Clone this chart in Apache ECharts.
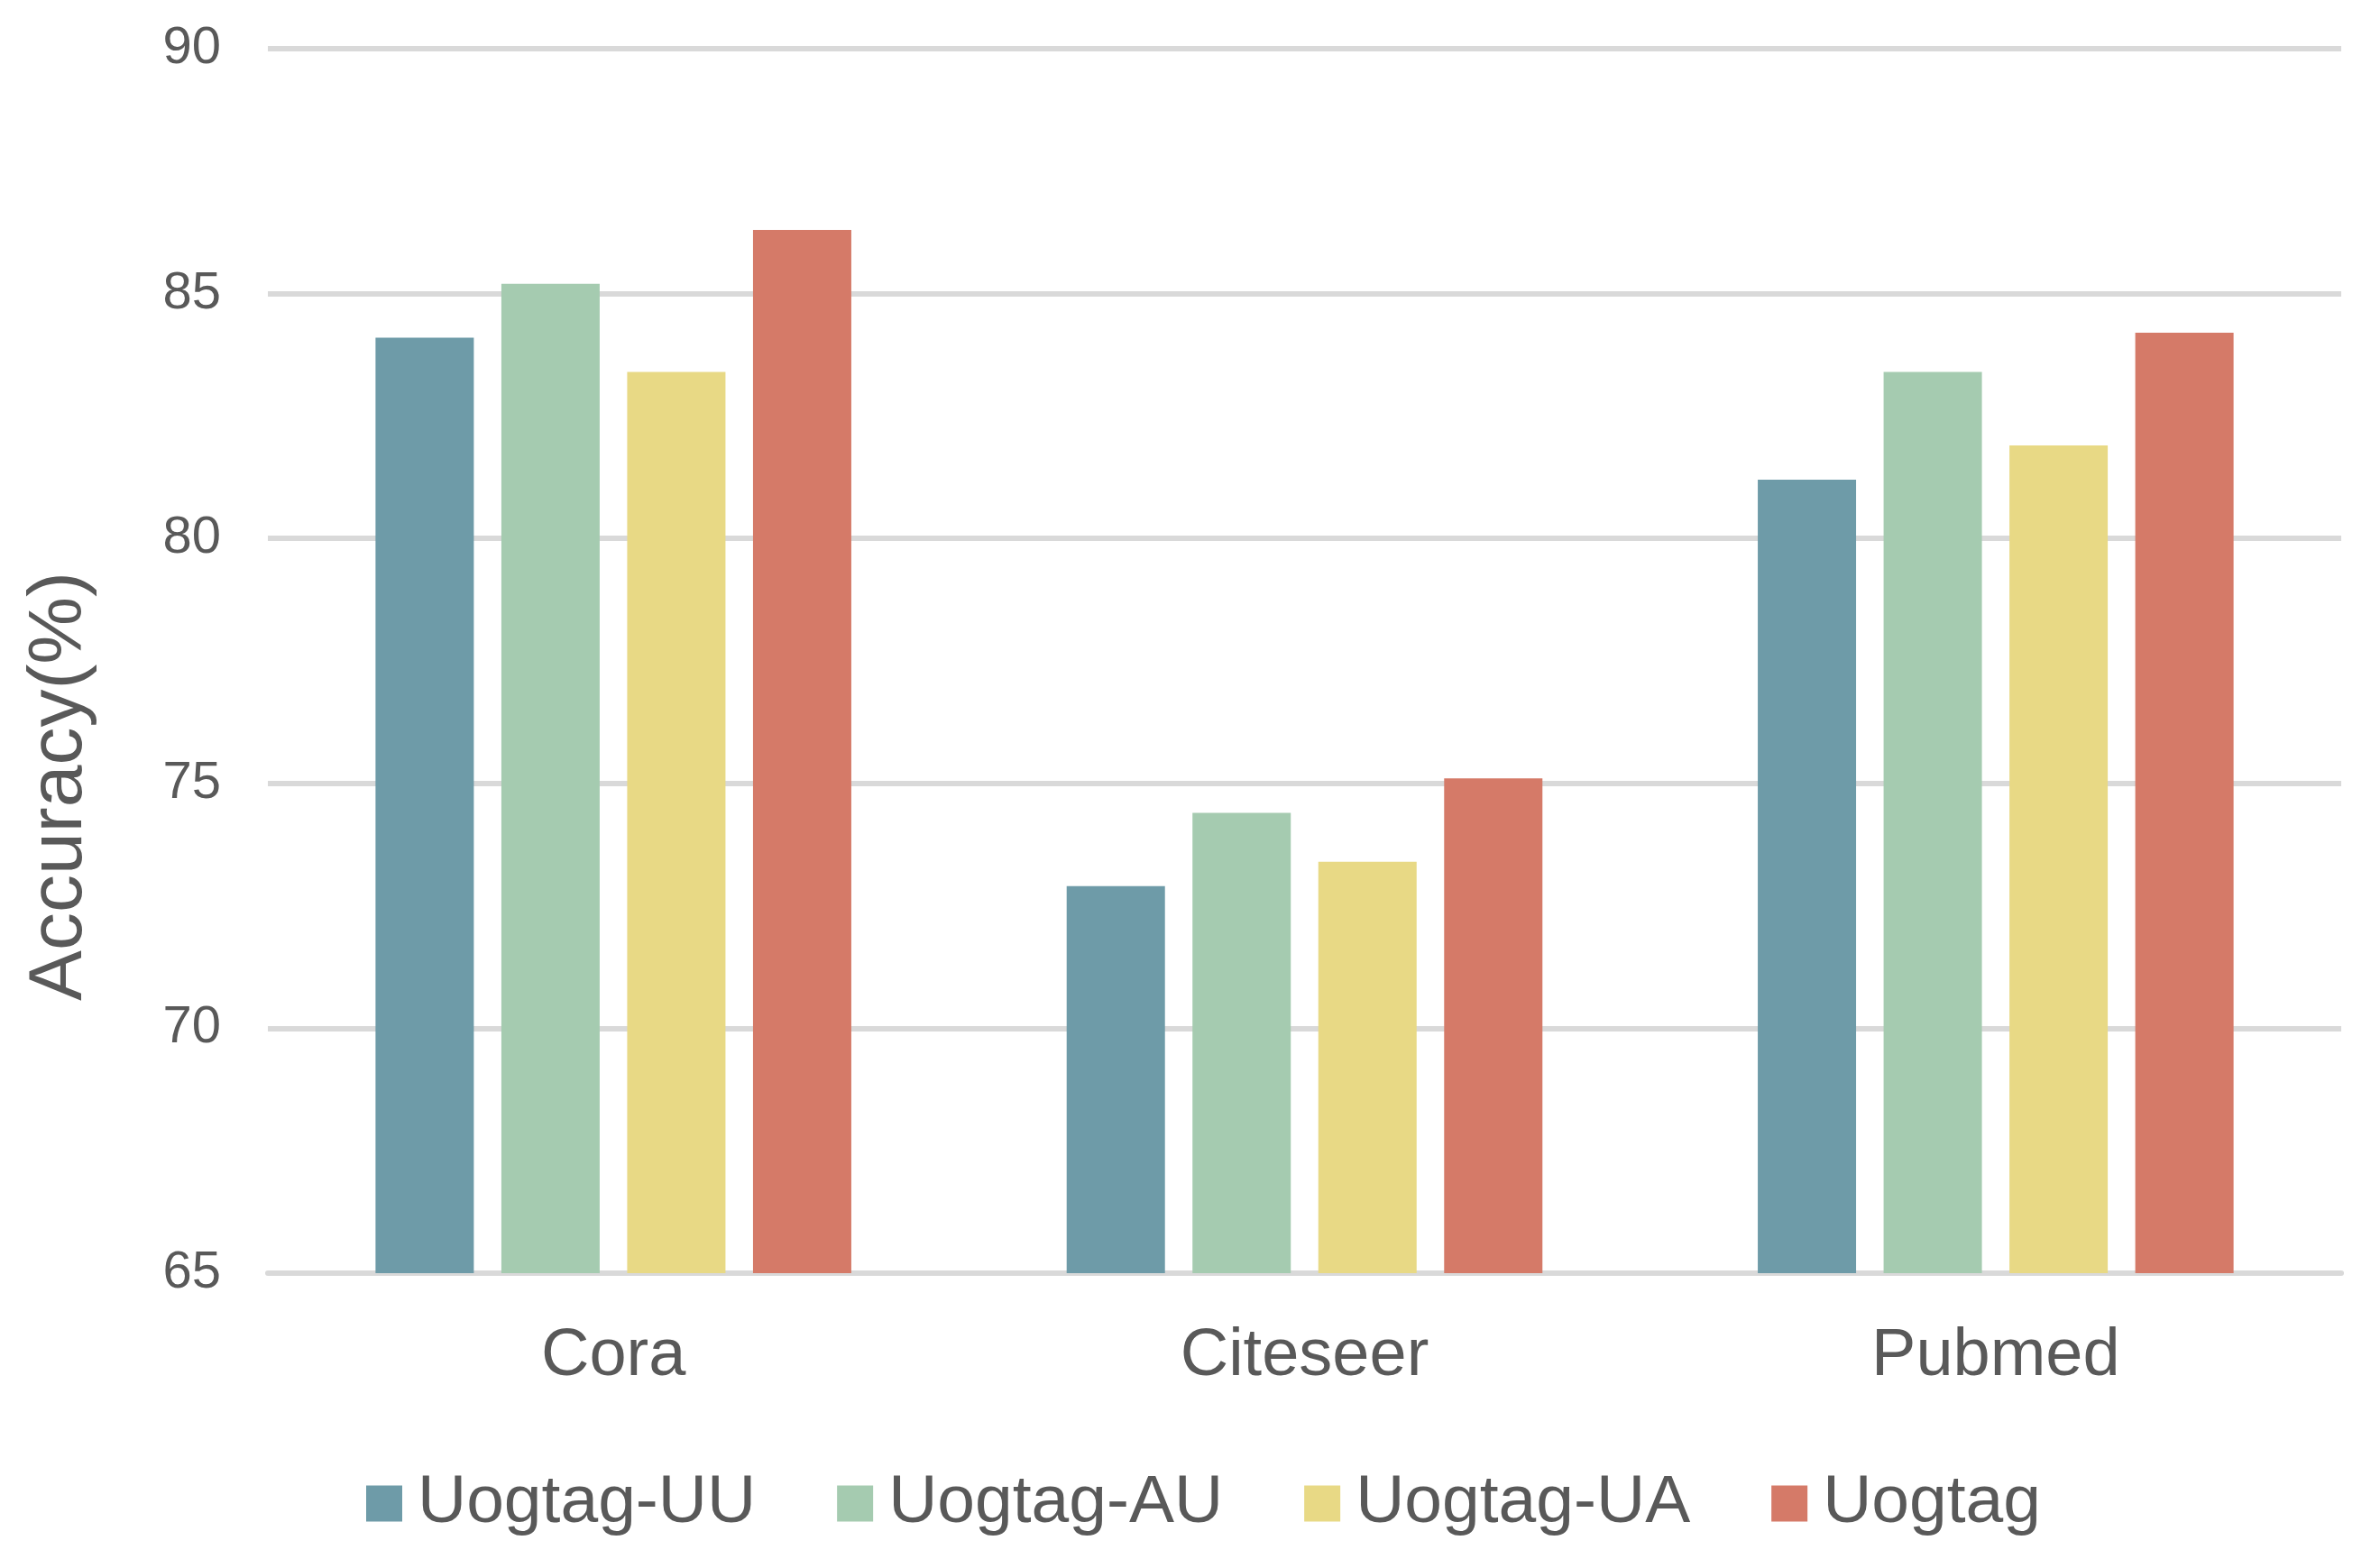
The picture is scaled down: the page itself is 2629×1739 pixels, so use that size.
<!DOCTYPE html>
<html>
<head>
<meta charset="utf-8">
<script src="https://cdn.jsdelivr.net/npm/echarts@6/dist/echarts.min.js"></script>
<style>
html,body{margin:0;padding:0;background:#fff;}
#chart{width:2629px;height:1739px;}
</style>
</head>
<body>
<div id="chart"></div>
<script>
const categories = ['Cora', 'Citeseer', 'Pubmed'];
const seriesNames = ['Uogtag-UU', 'Uogtag-AU', 'Uogtag-UA', 'Uogtag'];
const uogtagUU = [84.1, 72.9, 81.2];
const uogtagAU = [85.2, 74.4, 83.4];
const uogtagUA = [83.4, 73.4, 81.9];
const uogtag   = [86.3, 75.1, 84.2];
const colors = ['#6E9BA8', '#A5CBB0', '#E8D985', '#D57A68'];
const yMin = 65, yMax = 90, yStep = 5;
const yTitle = 'Accuracy(%)';

const allValues = [uogtagUU, uogtagAU, uogtagUA, uogtag];
const font = '"Liberation Sans", Arial, sans-serif';
const chart = echarts.init(document.getElementById('chart'), null, {renderer: 'canvas'});
chart.setOption({
  backgroundColor: '#ffffff',
  animation: false,
  color: colors,
  grid: {left: 297, right: 33, top: 54, bottom: 327, containLabel: false},
  legend: {
    data: seriesNames,
    left: 401,
    top: 1625,
    itemWidth: 40,
    itemHeight: 40,
    itemGap: 90,
    icon: 'rect',
    textStyle: {fontFamily: font, fontSize: 75, color: '#595959', padding: [0, 0, 0, 12]},
    selectedMode: false
  },
  graphic: [{
    type: 'text',
    x: 67,
    y: 872,
    rotation: Math.PI / 2,
    style: {
      text: yTitle,
      fontFamily: font,
      fontSize: 84,
      fill: '#595959',
      align: 'center',
      verticalAlign: 'middle'
    }
  }],
  xAxis: {
    type: 'category',
    data: categories,
    axisLine: {show: true, lineStyle: {color: '#D9D9D9', width: 6}},
    axisTick: {show: false},
    axisLabel: {fontFamily: font, fontSize: 74, color: '#595959', margin: 56},
    splitLine: {show: false}
  },
  yAxis: {
    type: 'value',
    min: yMin,
    max: yMax,
    interval: yStep,
    axisLine: {show: false},
    axisTick: {show: false},
    axisLabel: {fontFamily: font, fontSize: 58, color: '#595959', margin: 52},
    splitLine: {show: true, lineStyle: {color: '#D9D9D9', width: 6}}
  },
  series: seriesNames.map((name, i) => ({
    name: name,
    type: 'bar',
    data: allValues[i],
    barWidth: 109,
    barGap: '28%',
    itemStyle: {color: colors[i]}
  }))
});
</script>
</body>
</html>
